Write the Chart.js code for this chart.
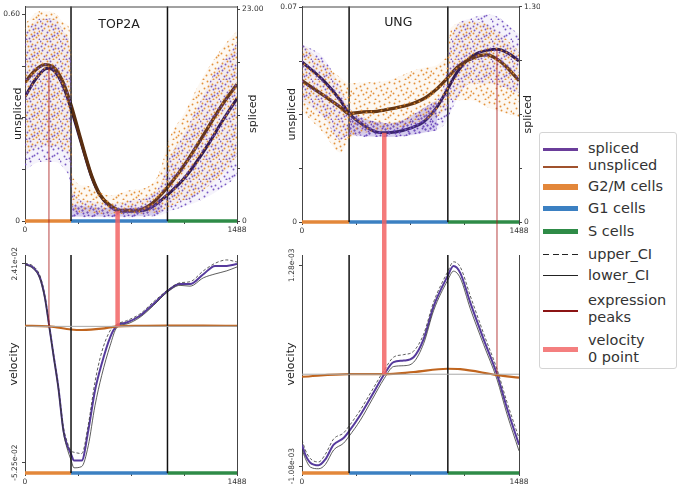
<!DOCTYPE html>
<html>
<head>
<meta charset="utf-8">
<script src="https://cdn.jsdelivr.net/npm/chart.js@4.4.1/dist/chart.umd.min.js"></script>
<style>
body { margin: 0; width: 680px; height: 490px; background: #fff; position: relative; overflow: hidden; font-family: "DejaVu Sans", sans-serif; }
canvas { position: absolute; }
#legend { position: absolute; left: 539px; top: 132px; width: 138px; height: 237px; border: 1px solid #d4d4d4; border-radius: 3px; box-sizing: border-box; background: #fff; }
#legend .sw { position: absolute; left: 3px; width: 35px; }
#legend .tx { position: absolute; left: 48px; font-size: 14.5px; line-height: 17px; color: #333; white-space: nowrap; }
</style>
</head>
<body>
<canvas id="topLeft" width="272" height="242" style="left:0;top:0"></canvas>
<canvas id="topRight" width="268" height="242" style="left:272px;top:0"></canvas>
<canvas id="botLeft" width="272" height="248" style="left:0;top:242px"></canvas>
<canvas id="botRight" width="268" height="248" style="left:272px;top:242px"></canvas>

<div id="legend">
  <div class="sw" style="top:15px;height:2.5px;background:#6a3d9a"></div><div class="tx" style="top:7px">spliced</div>
  <div class="sw" style="top:32.5px;height:2.5px;background:#a0522d"></div><div class="tx" style="top:24px">unspliced</div>
  <div class="sw" style="top:51px;height:5.5px;background:#e3873a"></div><div class="tx" style="top:45px">G2/M cells</div>
  <div class="sw" style="top:72.5px;height:5.5px;background:#3b80c2"></div><div class="tx" style="top:67px">G1 cells</div>
  <div class="sw" style="top:95.5px;height:5.5px;background:#2e8b47"></div><div class="tx" style="top:89.5px">S cells</div>
  <div class="sw" style="top:120.5px;height:1.5px;background:repeating-linear-gradient(90deg,#222 0 6px,transparent 6px 9.7px)"></div><div class="tx" style="top:113px">upper_CI</div>
  <div class="sw" style="top:142px;height:1.2px;background:#222"></div><div class="tx" style="top:134px">lower_CI</div>
  <div class="sw" style="top:176.5px;height:2.5px;background:#8b1414"></div><div class="tx" style="top:158.5px">expression<br>peaks</div>
  <div class="sw" style="top:213.5px;height:5.5px;background:#f47f7f"></div><div class="tx" style="top:198.5px">velocity<br>0 point</div>
</div>

<script>
// pseudotime (cell order) and cell cycle phases
const tMax = 1488;
const xTicks = [0, 372, 744, 1116, 1488];
const xLabels = ['0', '', '', '', '1488'];
const phaseStart = [0, 323, 1000];
const phaseEnd = [323, 1000, 1488];

// ---- TOP2A : fitted expression ----
const top2aX = [0, 70, 140, 168, 211, 267, 323, 372, 421, 470, 526, 597, 667, 772, 877, 1004, 1137, 1277, 1383, 1488];
const top2aSpliced = [13.5, 15.3, 16.5, 16.6, 16.2, 14.7, 12.2, 9.7, 7.1, 4.7, 2.8, 1.6, 1.07, 1.07, 1.4, 2.9, 5.0, 8.1, 10.8, 13.3];
const top2aUnspliced = [0.403, 0.437, 0.454, 0.453, 0.443, 0.403, 0.337, 0.266, 0.194, 0.129, 0.077, 0.046, 0.031, 0.031, 0.046, 0.100, 0.174, 0.266, 0.337, 0.397];

// TOP2A : spread of the single cells (upper / lower edge of the cloud)
const top2aCloudX = [0, 105, 211, 281, 323, 333, 421, 597, 737, 877, 948, 1004, 1123, 1228, 1334, 1439, 1488];
const top2aUHigh = [0.574, 0.609, 0.603, 0.574, 0.531, 0.131, 0.103, 0.074, 0.089, 0.103, 0.146, 0.231, 0.317, 0.403, 0.474, 0.531, 0.551];
const top2aULow = [0.190, 0.217, 0.217, 0.200, 0.150, 0.031, 0.023, 0.020, 0.020, 0.023, 0.026, 0.040, 0.060, 0.083, 0.117, 0.160, 0.189];
const top2aSHigh = [20.4, 22.0, 22.0, 20.4, 17.8, 3.3, 2.2, 1.9, 2.2, 2.8, 3.9, 6.5, 9.7, 12.9, 16.2, 18.3, 19.4];
const top2aSLow = [5.5, 6.4, 6.4, 5.5, 3.5, 0.5, 0.4, 0.4, 0.4, 0.5, 0.6, 1.0, 1.6, 2.2, 3.1, 4.2, 4.9];
// dense strip of spliced counts in G1
const top2aCoreX = [330, 600, 880, 960];
const top2aCoreHigh = [1.7, 1.4, 1.7, 2.5];
const top2aCoreLow = [0.5, 0.5, 0.6, 0.9];

// TOP2A : velocity
const top2aVelX = [0, 58, 105, 140, 168, 199, 234, 270, 293, 323, 344, 398, 444, 491, 538, 597, 644, 714, 807, 901, 1002, 1088, 1158, 1252, 1334, 1416, 1488];
const top2aVelS = [0.0240, 0.0227, 0.0188, 0.0111, 0.0009, -0.0107, -0.0235, -0.0402, -0.0453, -0.0492, -0.0517, -0.0517, -0.0402, -0.0248, -0.0145, -0.0043, 0.0002, 0.0015, 0.0041, 0.0086, 0.0137, 0.0163, 0.0163, 0.0201, 0.0233, 0.0233, 0.0240];
const top2aVelUpper = [0.0243, 0.0232, 0.0195, 0.0118, 0.0015, -0.0100, -0.0228, -0.0390, -0.0440, -0.0480, -0.0485, -0.0490, -0.0380, -0.0215, -0.0100, -0.0017, 0.0008, 0.0022, 0.0048, 0.0094, 0.0140, 0.0168, 0.0172, 0.0214, 0.0243, 0.0256, 0.0248];
const top2aVelLower = [0.0238, 0.0222, 0.0182, 0.0104, 0.0003, -0.0113, -0.0242, -0.0410, -0.0465, -0.0515, -0.0545, -0.0540, -0.0460, -0.0306, -0.0190, -0.0075, -0.0005, 0.0009, 0.0035, 0.0080, 0.0133, 0.0158, 0.0155, 0.0187, 0.0202, 0.0214, 0.0229];
const top2aVelUX = [0, 168, 323, 400, 538, 644, 807, 1002, 1250, 1488];
const top2aVelU = [0.0002, 0.0000, -0.0012, -0.0014, -0.0009, 0.0000, 0.0002, 0.0003, 0.0003, 0.0002];

// TOP2A : expression peak and velocity zero point (x, spliced value)
const top2aPeak = [168, 16.6];
const top2aZero = [650, 1.07];

// ---- UNG : fitted expression ----
const ungX = [0, 148, 263, 322, 422, 514, 564, 651, 743, 834, 926, 998, 1063, 1108, 1154, 1211, 1269, 1337, 1406, 1488];
const ungSpliced = [0.967, 0.854, 0.735, 0.657, 0.585, 0.543, 0.539, 0.545, 0.567, 0.605, 0.695, 0.804, 0.904, 0.954, 0.993, 1.023, 1.037, 1.043, 1.023, 0.973];
const ungUnspliced = [0.0461, 0.0413, 0.0375, 0.0354, 0.0359, 0.0361, 0.0365, 0.0373, 0.0384, 0.0402, 0.0435, 0.0470, 0.0504, 0.0520, 0.0531, 0.0542, 0.0545, 0.0531, 0.0504, 0.0461];

const ungCloudX = [0, 148, 263, 322, 422, 580, 834, 998, 1017, 1154, 1291, 1488];
const ungUHigh = [0.0581, 0.0516, 0.0471, 0.0452, 0.0455, 0.0461, 0.0503, 0.0548, 0.0632, 0.0655, 0.0640, 0.0558];
const ungULow = [0.0361, 0.0290, 0.0226, 0.0268, 0.0290, 0.0300, 0.0332, 0.0374, 0.0397, 0.0397, 0.0370, 0.0342];
const ungSHigh = [1.075, 0.991, 0.812, 0.693, 0.633, 0.597, 0.675, 0.932, 1.10, 1.230, 1.254, 1.135];
const ungSLow = [0.735, 0.633, 0.496, 0.526, 0.514, 0.514, 0.537, 0.615, 0.66, 0.836, 0.836, 0.776];
const ungCoreX = [322, 600, 926];
const ungCoreHigh = [0.645, 0.597, 0.735];
const ungCoreLow = [0.526, 0.514, 0.555];

// UNG : velocity
const ungVelX = [0, 23, 57, 114, 160, 217, 285, 322, 400, 480, 564, 628, 697, 765, 834, 903, 998, 1039, 1085, 1154, 1245, 1337, 1406, 1488];
const ungVelS = [-0.000828, -0.000944, -0.00104, -0.00107, -0.00100, -0.000828, -0.00075, -0.000672, -0.000479, -0.000247, 0, 0.000142, 0.00016, 0.0002, 0.000413, 0.0008, 0.00115, 0.00127, 0.00119, 0.00084, 0.000413, 0, -0.0004, -0.000828];
const ungVelUpper = [-0.00077, -0.00089, -0.00099, -0.00103, -0.00094, -0.00076, -0.00069, -0.00061, -0.00042, -0.00019, 0.00005, 0.0002, 0.00023, 0.00027, 0.00047, 0.00085, 0.0012, 0.00132, 0.00126, 0.00092, 0.00048, 0.00006, -0.00033, -0.00075];
const ungVelLower = [-0.00088, -0.00099, -0.00109, -0.00111, -0.00106, -0.00089, -0.00081, -0.00073, -0.00054, -0.0003, -0.00005, 0.00009, 0.0001, 0.00014, 0.00036, 0.00075, 0.0011, 0.00121, 0.00113, 0.00077, 0.00035, -0.00006, -0.00047, -0.0009];
const ungVelUX = [0, 322, 564, 765, 998, 1085, 1337, 1488];
const ungVelU = [-0.00003, 0, 0, 0.000026, 0.000064, 0.00006, -0.00001, -0.00004];

const ungZero = [564, 0.539];
const ungPeak = [1337, 1.043];

// axis ranges and ticks
const top2aURange = [0, 0.623];
const top2aSRange = [0, 23.3];
const top2aVRange = [-0.0565, 0.0275];
const ungURange = [0, 0.0703];
const ungSRange = [0, 1.302];
const ungVRange = [-0.00116, 0.0014];

const top2aUTicks = [0, 0.15, 0.30, 0.45, 0.60];
const top2aULabels = ['0', '', '', '', '0.60'];
const top2aSTicks = [0, 5.75, 11.5, 17.25, 23];
const top2aSLabels = ['0', '', '', '', '23.00'];
const ungUTicks = [0, 0.0175, 0.035, 0.0525, 0.07];
const ungULabels = ['0', '', '', '', '0.07'];
const ungSTicks = [0, 0.325, 0.65, 0.975, 1.30];
const ungSLabels = ['0', '', '', '', '1.30'];
const top2aVTicks = [-0.0525, 0.0241];
const top2aVLabels = ['-5.25e-02', '2.41e-02'];
const ungVTicks = [-0.00108, 0.00128];
const ungVLabels = ['-1.08e-03', '1.28e-03'];

// colours
const phaseColors = ['#e3873a', '#3b80c2', '#2e8b47'];
const peakColor = 'rgba(170,30,30,0.65)';
const zeroColor = 'rgba(242,100,100,0.85)';

Chart.defaults.font.family = '"DejaVu Sans", sans-serif';
Chart.defaults.animation = false;

function pts(xs, ys) {
    return xs.map((x, i) => ({x: x, y: ys[i]}));
}

function curve(xs, ys, color, width, axis, dash) {
    return {
        data: pts(xs, ys), yAxisID: axis,
        borderColor: color, borderWidth: width, borderDash: dash || [],
        pointRadius: 0, fill: false, cubicInterpolationMode: 'monotone'
    };
}

function band(xs, hi, lo, axis, pattern) {
    return [
        {data: pts(xs, hi), yAxisID: axis, borderWidth: 0, borderColor: 'transparent', pointRadius: 0, fill: false, cubicInterpolationMode: 'monotone'},
        {data: pts(xs, lo), yAxisID: axis, borderWidth: 0, borderColor: 'transparent', pointRadius: 0, fill: '-1', backgroundColor: pattern, cubicInterpolationMode: 'monotone'}
    ];
}

function vline(x, range, axis) {
    return {data: [{x: x, y: range[0]}, {x: x, y: range[1]}], yAxisID: axis, borderColor: '#111', borderWidth: 1.5, pointRadius: 0, clip: false};
}

function phaseBars(range, axis) {
    return phaseStart.map((s, i) => ({
        data: [{x: s, y: range[0]}, {x: phaseEnd[i], y: range[0]}],
        yAxisID: axis, borderColor: phaseColors[i], borderWidth: 3.5, pointRadius: 0, clip: false
    }));
}

// dotted fill that stands in for the cloud of single cells
function dots(canvasId, color, spots, tint) {
    let tile = document.createElement('canvas');
    tile.width = 20;
    tile.height = 20;
    let g = tile.getContext('2d');
    if (tint) {
        g.fillStyle = tint;
        g.fillRect(0, 0, 20, 20);
    }
    g.fillStyle = color;
    spots.forEach(p => {
        g.beginPath();
        g.arc(p[0] + 0.5, p[1] + 0.5, 0.95, 0, Math.PI * 2);
        g.fill();
    });
    return document.getElementById(canvasId).getContext('2d').createPattern(tile, 'repeat');
}
const orangeSpots = [[2, 3], [7, 1], [12, 4], [17, 2], [4, 8], [9, 10], [15, 8], [19, 11], [1, 13], [6, 15], [11, 14], [16, 17], [3, 19], [13, 19], [8, 6], [18, 15], [14, 12]];
const purpleSpots = [[0, 1], [5, 4], [10, 1], [15, 5], [2, 10], [7, 12], [13, 9], [18, 8], [4, 16], [9, 18], [14, 15], [19, 19], [11, 6], [17, 13], [1, 6], [6, 19], [12, 16]];
const coreSpots = [[0, 1], [3, 3], [5, 4], [8, 2], [10, 1], [13, 3], [15, 5], [18, 1], [2, 10], [7, 12], [10, 8], [13, 9], [18, 8], [4, 16], [9, 18], [14, 15], [19, 19], [11, 6], [17, 13], [1, 6], [6, 19], [12, 16], [5, 8], [16, 11], [3, 13], [8, 15], [15, 18], [19, 4]];

function xAxis(height) {
    return {
        type: 'linear', min: 0, max: tMax,
        afterBuildTicks: s => { s.ticks = xTicks.map(v => ({value: v})); },
        afterFit: s => { s.height = height; },
        ticks: {autoSkip: false, maxRotation: 0, minRotation: 0, font: {size: 7.5}, color: '#333', padding: 2, callback: (v, i) => xLabels[i]},
        grid: {drawOnChartArea: false, tickLength: 3, color: '#444'},
        border: {color: '#444'}
    };
}

function yAxis(pos, range, ticks, labels, width, showLabels, showTicks) {
    return {
        type: 'linear', position: pos, min: range[0], max: range[1],
        afterBuildTicks: s => { s.ticks = ticks.map(v => ({value: v})); },
        afterFit: s => { s.width = width; },
        ticks: {display: showLabels, autoSkip: false, font: {size: 7.5}, color: '#333', padding: 2, callback: (v, i) => labels[i]},
        grid: {display: showTicks, drawOnChartArea: false, tickLength: 3, color: '#444'},
        border: {display: true, color: '#444'}
    };
}

function rotText(ctx, text, x, y) {
    ctx.save();
    ctx.translate(x, y);
    ctx.rotate(-Math.PI / 2);
    ctx.fillText(text, 0, 0);
    ctx.restore();
}

const decor = {
    id: 'decor',
    afterDatasetsDraw(chart, args, o) {
        const ctx = chart.ctx;
        ctx.save();
        (o.links || []).forEach(l => {
            const px = chart.scales.x.getPixelForValue(l.x);
            const py = chart.scales[l.axis].getPixelForValue(l.y);
            ctx.strokeStyle = l.color;
            ctx.lineWidth = l.width;
            ctx.beginPath();
            ctx.moveTo(px, py);
            ctx.lineTo(px, l.down ? chart.height : 0);
            ctx.stroke();
        });
        ctx.restore();
    },
    afterDraw(chart, args, o) {
        const ctx = chart.ctx;
        const a = chart.chartArea;
        ctx.save();
        if (o.topSpine) {
            ctx.strokeStyle = '#444';
            ctx.lineWidth = 1;
            ctx.beginPath();
            ctx.moveTo(a.left, a.top + 0.5);
            ctx.lineTo(a.right, a.top + 0.5);
            ctx.stroke();
        }
        ctx.fillStyle = '#222';
        ctx.textAlign = 'center';
        ctx.textBaseline = 'middle';
        if (o.name) {
            ctx.font = '12.5px "DejaVu Sans"';
            ctx.fillText(o.name, chart.scales.x.getPixelForValue(o.nameX), a.top + o.nameDy);
        }
        const midY = (a.top + a.bottom) / 2;
        ctx.font = '11px "DejaVu Sans"';
        if (o.leftTitle) rotText(ctx, o.leftTitle, a.left - o.leftOff, midY);
        if (o.rightTitle) rotText(ctx, o.rightTitle, a.right + o.rightOff, midY);
        if (o.tickValues) {
            ctx.font = '7.5px "DejaVu Sans"';
            ctx.fillStyle = '#333';
            o.tickValues.forEach((v, i) => rotText(ctx, o.tickLabels[i], a.left - 9.5, chart.scales.y.getPixelForValue(v)));
        }
        ctx.restore();
    }
};
Chart.register(decor);

function topPanel(id, p) {
    const orange = dots(id, 'rgba(226,140,50,0.95)', orangeSpots, 'rgba(232,150,70,0.07)');
    const purple = dots(id, 'rgba(112,80,192,0.95)', purpleSpots, 'rgba(120,90,200,0.07)');
    const core = dots(id, 'rgba(100,60,180,0.95)', coreSpots, 'rgba(120,90,200,0.25)');
    let datasets = []
        .concat(band(p.cloudX, p.uHigh, p.uLow, 'yU', orange))
        .concat(band(p.cloudX, p.sHigh, p.sLow, 'yS', purple))
        .concat(band(p.coreX, p.coreHigh, p.coreLow, 'yS', core))
        .concat([vline(phaseEnd[0], p.uRange, 'yU'), vline(phaseEnd[1], p.uRange, 'yU')])
        .concat([
            curve(p.x, p.unspliced, '#5a2e10', 3.3, 'yU'),
            curve(p.x, p.unspliced, '#b96a27', 1.9, 'yU'),
            curve(p.x, p.spliced, '#22104a', 3, 'yS')
        ])
        .concat(phaseBars(p.uRange, 'yU'));

    new Chart(document.getElementById(id), {
        type: 'line',
        data: {datasets: datasets},
        options: {
            responsive: false, events: [],
            layout: {padding: {top: p.top, left: 0, right: 0, bottom: 0}},
            plugins: {
                legend: {display: false}, tooltip: {enabled: false},
                decor: {
                    topSpine: true, name: p.name, nameX: 660, nameDy: p.nameDy,
                    leftTitle: 'unspliced', leftOff: p.leftOff, rightTitle: 'spliced', rightOff: p.rightOff,
                    links: [
                        {x: p.peak[0], y: p.peak[1], axis: 'yS', down: true, color: peakColor, width: 1.3},
                        {x: p.zero[0], y: p.zero[1], axis: 'yS', down: true, color: zeroColor, width: 4.5}
                    ]
                }
            },
            scales: {
                x: xAxis(p.xHeight),
                yU: yAxis('left', p.uRange, p.uTicks, p.uLabels, p.leftW, true, true),
                yS: yAxis('right', p.sRange, p.sTicks, p.sLabels, p.rightW, true, true)
            }
        }
    });
}

function velocityPanel(id, p) {
    let datasets = [
        {data: [{x: 0, y: 0}, {x: tMax, y: 0}], yAxisID: 'y', borderColor: '#a8a8a8', borderWidth: 1, pointRadius: 0},
        vline(phaseEnd[0], p.range, 'y'), vline(phaseEnd[1], p.range, 'y'),
        curve(p.uX, p.u, '#c0651f', 2.2, 'y'),
        curve(p.x, p.upper, '#333', 0.8, 'y', [3, 2]),
        curve(p.x, p.lower, '#333', 0.8, 'y'),
        curve(p.x, p.s, '#563a9c', 2, 'y')
    ].concat(phaseBars(p.range, 'y'));

    new Chart(document.getElementById(id), {
        type: 'line',
        data: {datasets: datasets},
        options: {
            responsive: false, events: [],
            layout: {padding: {top: 13, left: 0, right: 0, bottom: 0}},
            plugins: {
                legend: {display: false}, tooltip: {enabled: false},
                decor: {
                    leftTitle: 'velocity', leftOff: 11,
                    tickValues: p.ticks, tickLabels: p.labels,
                    links: [
                        {x: p.peakX, y: 0, axis: 'y', down: false, color: peakColor, width: 1.3},
                        {x: p.zeroX, y: 0, axis: 'y', down: false, color: zeroColor, width: 4.5}
                    ]
                }
            },
            scales: {
                x: xAxis(17),
                y: yAxis('left', p.range, p.ticks, p.labels, p.leftW, false, true),
                yR: yAxis('right', p.range, [p.range[0]], [''], p.rightW, false, false)
            }
        }
    });
}

topPanel('topLeft', {
    name: 'TOP2A', nameDy: 18, top: 3, xHeight: 21, leftW: 25, rightW: 35, leftOff: 7, rightOff: 16,
    x: top2aX, spliced: top2aSpliced, unspliced: top2aUnspliced,
    cloudX: top2aCloudX, uHigh: top2aUHigh, uLow: top2aULow, sHigh: top2aSHigh, sLow: top2aSLow,
    coreX: top2aCoreX, coreHigh: top2aCoreHigh, coreLow: top2aCoreLow,
    uRange: top2aURange, sRange: top2aSRange,
    uTicks: top2aUTicks, uLabels: top2aULabels, sTicks: top2aSTicks, sLabels: top2aSLabels,
    peak: top2aPeak, zero: top2aZero
});

topPanel('topRight', {
    name: 'UNG', nameDy: 16, top: 5, xHeight: 20, leftW: 30, rightW: 21, leftOff: 9.5, rightOff: 9,
    x: ungX, spliced: ungSpliced, unspliced: ungUnspliced,
    cloudX: ungCloudX, uHigh: ungUHigh, uLow: ungULow, sHigh: ungSHigh, sLow: ungSLow,
    coreX: ungCoreX, coreHigh: ungCoreHigh, coreLow: ungCoreLow,
    uRange: ungURange, sRange: ungSRange,
    uTicks: ungUTicks, uLabels: ungULabels, sTicks: ungSTicks, sLabels: ungSLabels,
    peak: ungPeak, zero: ungZero
});

velocityPanel('botLeft', {
    leftW: 25, rightW: 35, range: top2aVRange, ticks: top2aVTicks, labels: top2aVLabels,
    x: top2aVelX, s: top2aVelS, upper: top2aVelUpper, lower: top2aVelLower,
    uX: top2aVelUX, u: top2aVelU, peakX: top2aPeak[0], zeroX: top2aZero[0]
});

velocityPanel('botRight', {
    leftW: 30, rightW: 21, range: ungVRange, ticks: ungVTicks, labels: ungVLabels,
    x: ungVelX, s: ungVelS, upper: ungVelUpper, lower: ungVelLower,
    uX: ungVelUX, u: ungVelU, peakX: ungPeak[0], zeroX: ungZero[0]
});
</script>
</body>
</html>
